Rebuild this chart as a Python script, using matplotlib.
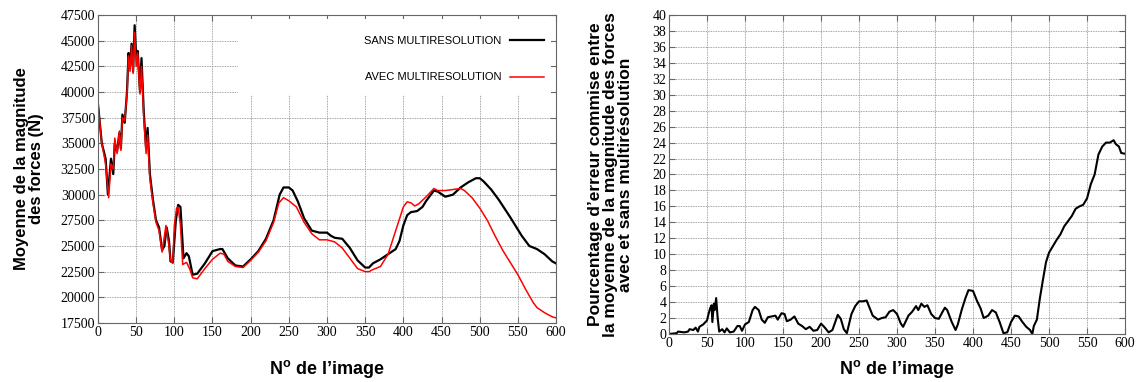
import matplotlib
matplotlib.use("Agg")
import matplotlib.pyplot as plt
from matplotlib.patches import Rectangle

# --- left chart: mean force magnitude (N) ---
img_sans = [0, 5, 10, 13, 17, 20, 22, 25, 28, 30, 32, 35, 38, 40, 42, 44, 46, 48, 50, 52,
            55, 57, 60, 63, 65, 68, 72, 76, 80, 84, 87, 90, 93, 95, 98, 102, 105, 108, 112,
            116, 119, 124, 130, 140, 150, 160, 163, 170, 180, 190, 200, 210, 220, 230, 238,
            243, 250, 255, 262, 270, 280, 290, 300, 305, 310, 320, 330, 340, 350, 355, 360,
            370, 380, 390, 395, 400, 405, 410, 418, 425, 430, 440, 445, 455, 465, 475, 485,
            495, 500, 505, 515, 525, 540, 555, 565, 575, 585, 595, 600]
force_sans = [38800, 35000, 33500, 30000, 33500, 32000, 35000, 34200, 36000, 34500, 37800,
              37000, 40000, 43800, 42500, 44700, 42000, 46500, 43500, 44000, 40000, 43300,
              38000, 34500, 36500, 32000, 29500, 27500, 26800, 24600, 25000, 26800, 25500,
              23500, 23400, 27500, 29000, 28800, 23800, 24300, 24000, 22200, 22300, 23300,
              24500, 24700, 24700, 23800, 23100, 23000, 23700, 24500, 25700, 27500, 30000,
              30700, 30700, 30400, 29300, 27700, 26500, 26300, 26300, 26000, 25800, 25700,
              24800, 23600, 22900, 22900, 23300, 23700, 24200, 24700, 25500, 27000, 28000,
              28300, 28400, 28800, 29400, 30400, 30300, 29800, 30000, 30700, 31200, 31600,
              31600, 31300, 30500, 29500, 27800, 26000, 25000, 24700, 24200, 23500, 23300]

img_avec = [0, 5, 10, 14, 17, 20, 22, 25, 28, 30, 32, 35, 38, 40, 42, 44, 46, 48, 50, 52,
            55, 57, 60, 63, 65, 68, 72, 76, 80, 84, 89, 93, 95, 98, 100, 103, 105, 108, 111,
            116, 120, 124, 130, 140, 150, 160, 165, 170, 180, 190, 200, 210, 220, 230, 237,
            243, 250, 260, 270, 280, 290, 300, 310, 320, 330, 340, 350, 355, 360, 370, 380,
            390, 400, 405, 410, 415, 420, 430, 440, 445, 455, 465, 475, 480, 490, 500, 510,
            520, 530, 540, 550, 560, 570, 575, 585, 595, 600]
force_avec = [38800, 35000, 33000, 29700, 33000, 32500, 35500, 34000, 36200, 34300, 37500,
              37200, 39800, 43500, 42000, 44500, 41800, 45800, 42500, 43800, 39800, 42500,
              37500, 34000, 35800, 31500, 29200, 27300, 26500, 24400, 27000, 25000, 23600,
              23300, 27000, 28700, 28800, 27000, 23200, 23400, 22800, 21900, 21800, 22800,
              23700, 24300, 24200, 23500, 23000, 22900, 23600, 24400, 25500, 27300, 29200,
              29700, 29400, 28800, 27300, 26200, 25600, 25600, 25400, 24800, 23800, 22800,
              22500, 22500, 22700, 23000, 24200, 26500, 28800, 29300, 29200, 28900, 29100,
              29800, 30600, 30400, 30400, 30500, 30600, 30400, 29700, 28700, 27500, 26000,
              24600, 23400, 22200, 20800, 19500, 19000, 18500, 18100, 18000]

# --- right chart: error percentage ---
img_err = [0, 10, 12, 20, 25, 27, 32, 35, 38, 40, 45, 48, 50, 52, 54, 56, 57, 59, 60, 62,
           64, 66, 70, 73, 76, 80, 85, 90, 93, 96, 100, 105, 110, 113, 118, 122, 126, 130,
           135, 140, 143, 148, 152, 155, 160, 165, 170, 175, 180, 185, 190, 195, 200, 205,
           210, 215, 222, 226, 230, 234, 240, 245, 250, 255, 260, 263, 268, 275, 280, 285,
           290, 295, 300, 305, 308, 315, 320, 325, 328, 332, 336, 340, 345, 350, 355, 360,
           363, 366, 372, 377, 380, 385, 390, 394, 400, 405, 410, 414, 420, 425, 430, 435,
           440, 445, 450, 455, 460, 465, 470, 475, 478, 480, 484, 488, 492, 496, 500, 505,
           510, 515, 520, 530, 535, 540, 545, 550, 555, 560, 565, 570, 575, 580, 585, 588,
           592, 595, 600]
err_pct = [0, 0.1, 0.3, 0.2, 0.3, 0.6, 0.5, 0.8, 0.3, 0.9, 1.2, 1.5, 1.7, 2.5, 3.2, 3.6,
           1.5, 3.8, 3.0, 4.5, 2.0, 0.3, 0.6, 0.2, 0.7, 0.2, 0.3, 1.0, 1.0, 0.4, 1.2, 1.5,
           3.0, 3.4, 3.0, 1.8, 1.4, 2.1, 2.2, 2.3, 1.8, 2.6, 2.5, 1.6, 1.8, 2.2, 1.3, 1.0,
           0.6, 0.9, 0.4, 0.5, 1.3, 0.8, 0.2, 0.5, 2.4, 1.9, 0.6, 0.1, 2.5, 3.5, 4.1, 4.1,
           4.2, 3.5, 2.3, 1.8, 2.0, 2.1, 2.8, 3.0, 2.5, 1.3, 0.9, 2.3, 2.8, 3.5, 3.0, 3.8,
           3.4, 3.6, 2.5, 2.0, 1.9, 2.8, 3.3, 3.0, 1.5, 0.5, 1.2, 3.0, 4.5, 5.5, 5.4, 4.2,
           3.2, 2.0, 2.3, 3.0, 2.7, 1.5, 0.1, 0.2, 1.5, 2.3, 2.2, 1.5, 0.9, 0.5, 0.0, 1.0,
           1.8, 4.5, 6.8, 9.0, 10.2, 11.0, 11.8, 12.5, 13.5, 14.8, 15.7, 16.0, 16.2, 17.0,
           18.8, 20.0, 22.5, 23.5, 24.0, 24.0, 24.3, 23.8, 23.5, 22.7, 22.6]

plt.rcParams['mathtext.fontset'] = 'custom'
plt.rcParams['mathtext.rm'] = 'Liberation Sans:bold'

tick_font = {'family': 'Liberation Serif', 'size': 10}
label_font = {'family': 'Liberation Sans', 'weight': 'bold', 'size': 12}
grid_style = dict(color='#888888', linestyle=(0, (1, 1)), linewidth=0.6)

fig = plt.figure(figsize=(11.46, 3.82), dpi=100)
ax1 = fig.add_axes([0.0855, 0.1545, 0.3997, 0.8063])
ax2 = fig.add_axes([0.5838, 0.1257, 0.3979, 0.835])

for ax in (ax1, ax2):
    ax.set_axisbelow(True)
    ax.grid(True, **grid_style)
    ax.tick_params(direction='in', top=True, right=True, length=4, color='#666666',
                   pad=2)
    for s in ax.spines.values():
        s.set_color('#666666')

# left chart
ax1.plot(img_sans, force_sans, color='black', lw=1.6, label='SANS MULTIRESOLUTION')
ax1.plot(img_avec, force_avec, color='red', lw=1.1, label='AVEC MULTIRESOLUTION')
ax1.set_xlim(0, 600)
ax1.set_ylim(17500, 47500)
ax1.set_xticks(range(0, 601, 50))
ax1.set_yticks(range(17500, 47501, 2500))
for lbl in ax1.get_xticklabels() + ax1.get_yticklabels():
    lbl.set_fontproperties(tick_font)
# white area behind the key, like gnuplot's opaque key box
ax1.add_patch(Rectangle((183, 39700), 411, 7400, facecolor='white', edgecolor='none',
                        zorder=1))
ax1.legend(loc='upper right', bbox_to_anchor=(0.995, 0.965), frameon=False,
           markerfirst=False, handlelength=3, labelspacing=2.4,
           prop={'family': 'Liberation Sans', 'size': 8})
ax1.set_ylabel('Moyenne de la magnitude\ndes forces (N)', fontdict=label_font,
               linespacing=1.0, labelpad=12)
ax1.set_xlabel(r'N$^{\rm o}$ de l’image', fontdict=dict(label_font, size=13),
               labelpad=14)

# right chart
ax2.plot(img_err, err_pct, color='black', lw=1.5)
ax2.set_xlim(0, 600)
ax2.set_ylim(0, 40)
ax2.set_xticks(range(0, 601, 50))
ax2.set_yticks(range(0, 41, 2))
for lbl in ax2.get_xticklabels() + ax2.get_yticklabels():
    lbl.set_fontproperties(tick_font)
ax2.set_ylabel('Pourcentage d’erreur commise entre\nla moyenne de la magnitude des forces\n'
               'avec et sans multirésolution', fontdict=dict(label_font, size=12.5),
               linespacing=1.0, labelpad=14)
ax2.set_xlabel(r'N$^{\rm o}$ de l’image', fontdict=dict(label_font, size=13), labelpad=6)

fig.savefig('out.png', dpi=100)
